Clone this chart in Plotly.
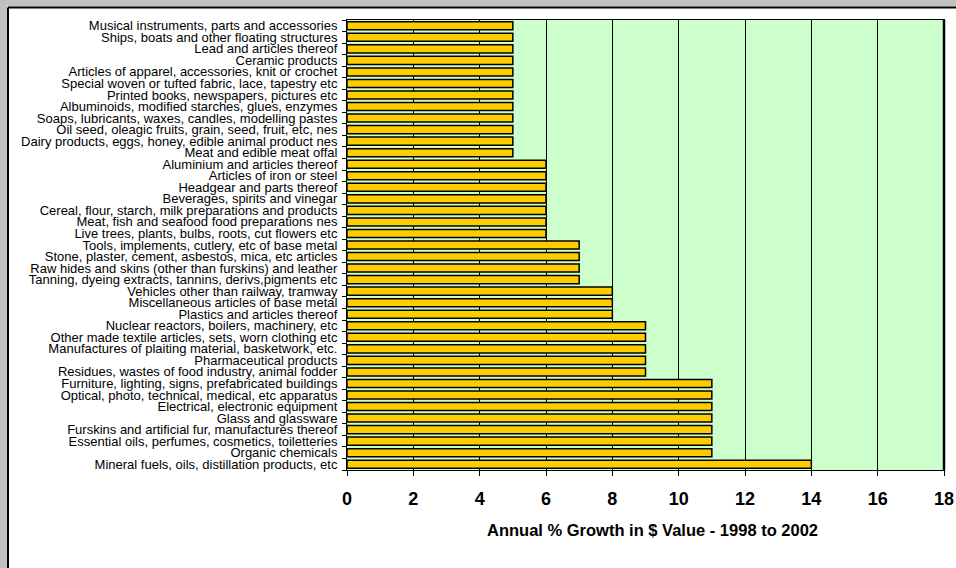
import plotly.graph_objects as go

# Product categories, listed top to bottom as they appear on the chart
categories = [
    "Musical instruments, parts and accessories",
    "Ships, boats and other floating structures",
    "Lead and articles thereof",
    "Ceramic products",
    "Articles of apparel, accessories, knit or crochet",
    "Special woven or tufted fabric, lace, tapestry etc",
    "Printed books, newspapers, pictures etc",
    "Albuminoids, modified starches, glues, enzymes",
    "Soaps, lubricants, waxes, candles, modelling pastes",
    "Oil seed, oleagic fruits, grain, seed, fruit, etc, nes",
    "Dairy products, eggs, honey, edible animal product nes",
    "Meat and edible meat offal",
    "Aluminium and articles thereof",
    "Articles of iron or steel",
    "Headgear and parts thereof",
    "Beverages, spirits and vinegar",
    "Cereal, flour, starch, milk preparations and products",
    "Meat, fish and seafood food preparations nes",
    "Live trees, plants, bulbs, roots, cut flowers etc",
    "Tools, implements, cutlery, etc of base metal",
    "Stone, plaster, cement, asbestos, mica, etc articles",
    "Raw hides and skins (other than furskins) and leather",
    "Tanning, dyeing extracts, tannins, derivs,pigments etc",
    "Vehicles other than railway, tramway",
    "Miscellaneous articles of base metal",
    "Plastics and articles thereof",
    "Nuclear reactors, boilers, machinery, etc",
    "Other made textile articles, sets, worn clothing etc",
    "Manufactures of plaiting material, basketwork, etc.",
    "Pharmaceutical products",
    "Residues, wastes of food industry, animal fodder",
    "Furniture, lighting, signs, prefabricated buildings",
    "Optical, photo, technical, medical, etc apparatus",
    "Electrical, electronic equipment",
    "Glass and glassware",
    "Furskins and artificial fur, manufactures thereof",
    "Essential oils, perfumes, cosmetics, toiletteries",
    "Organic chemicals",
    "Mineral fuels, oils, distillation products, etc",
]

# Annual % growth in $ value, 1998 to 2002
growth = [
    5, 5, 5, 5, 5, 5, 5, 5, 5, 5, 5, 5,
    6, 6, 6, 6, 6, 6, 6,
    7, 7, 7, 7,
    8, 8, 8,
    9, 9, 9, 9, 9,
    11, 11, 11, 11, 11, 11, 11,
    14,
]

x_ticks = [0, 2, 4, 6, 8, 10, 12, 14, 16, 18]
x_title = "Annual % Growth in $ Value - 1998 to 2002"

W, H = 956, 568
L, R, T, B = 347, 944, 20, 470  # plot area edges in pixels


def px(x):
    return (x - L) / (R - L)


def py(y):
    return (B - y) / (B - T)


FONT = "Liberation Sans, Arial, sans-serif"

fig = go.Figure(
    go.Bar(
        x=growth,
        y=categories,
        orientation="h",
        marker=dict(color="#FFCC00", line=dict(color="#000000", width=1.5)),
        hoverinfo="x+y",
    )
)

fig.update_layout(
    width=W,
    height=H,
    margin=dict(l=L, r=W - R, t=T, b=H - B, pad=0, autoexpand=False),
    paper_bgcolor="#FFFFFF",
    plot_bgcolor="#CCFFCC",
    bargap=0.3,
    showlegend=False,
    font=dict(family=FONT, color="#000000"),
)

fig.update_xaxes(
    range=[0, 18],
    tickvals=x_ticks,
    ticktext=[str(v) for v in x_ticks],
    tickfont=dict(family=FONT, size=18, color="#000000", weight="bold"),
    ticks="outside",
    ticklen=5,
    tickcolor="#000000",
    showgrid=True,
    gridcolor="#000000",
    gridwidth=1,
    showline=True,
    linecolor="#000000",
    linewidth=1,
    mirror=True,
    zeroline=False,
    ticklabelstandoff=7,
    automargin=False,
    fixedrange=True,
)

fig.update_yaxes(
    autorange="reversed",
    tickmode="array",
    tickvals=categories,
    ticktext=categories,
    tickfont=dict(family=FONT, size=13, color="#000000"),
    ticks="outside",
    ticklen=4,
    tickcolor="#000000",
    tickson="boundaries",
    showgrid=False,
    showline=True,
    linecolor="#000000",
    linewidth=1,
    mirror=True,
    ticklabelstandoff=6,
    automargin=False,
    fixedrange=True,
)

# Axis title placed as an annotation below the tick labels
fig.add_annotation(
    text="<b>" + x_title + "</b>",
    x=px(652.5), y=py(530), xref="paper", yref="paper",
    xanchor="center", yanchor="middle", showarrow=False,
    font=dict(family=FONT, size=16.5, color="#000000"),
)

# Heavier right edge of the plot frame
fig.add_shape(type="line", xref="paper", yref="paper",
              x0=1, x1=1, y0=0, y1=1, line=dict(color="#000000", width=2.5),
              layer="above")

# Grey window frame around the white chart panel
fig.add_shape(type="rect", xref="paper", yref="paper",
              x0=px(-5), x1=px(7), y0=py(H + 5), y1=py(-5),
              fillcolor="#C0C0C0", line=dict(width=0), layer="above")
fig.add_shape(type="rect", xref="paper", yref="paper",
              x0=px(-5), x1=px(W + 5), y0=py(6.5), y1=py(-5),
              fillcolor="#C0C0C0", line=dict(width=0), layer="above")
fig.add_shape(type="line", xref="paper", yref="paper",
              x0=px(8), x1=px(8), y0=py(H + 5), y1=py(7.5),
              line=dict(color="#000000", width=2), layer="above")
fig.add_shape(type="line", xref="paper", yref="paper",
              x0=px(8), x1=px(W + 5), y0=py(7.5), y1=py(7.5),
              line=dict(color="#000000", width=2), layer="above")

fig.write_html("out.html")
